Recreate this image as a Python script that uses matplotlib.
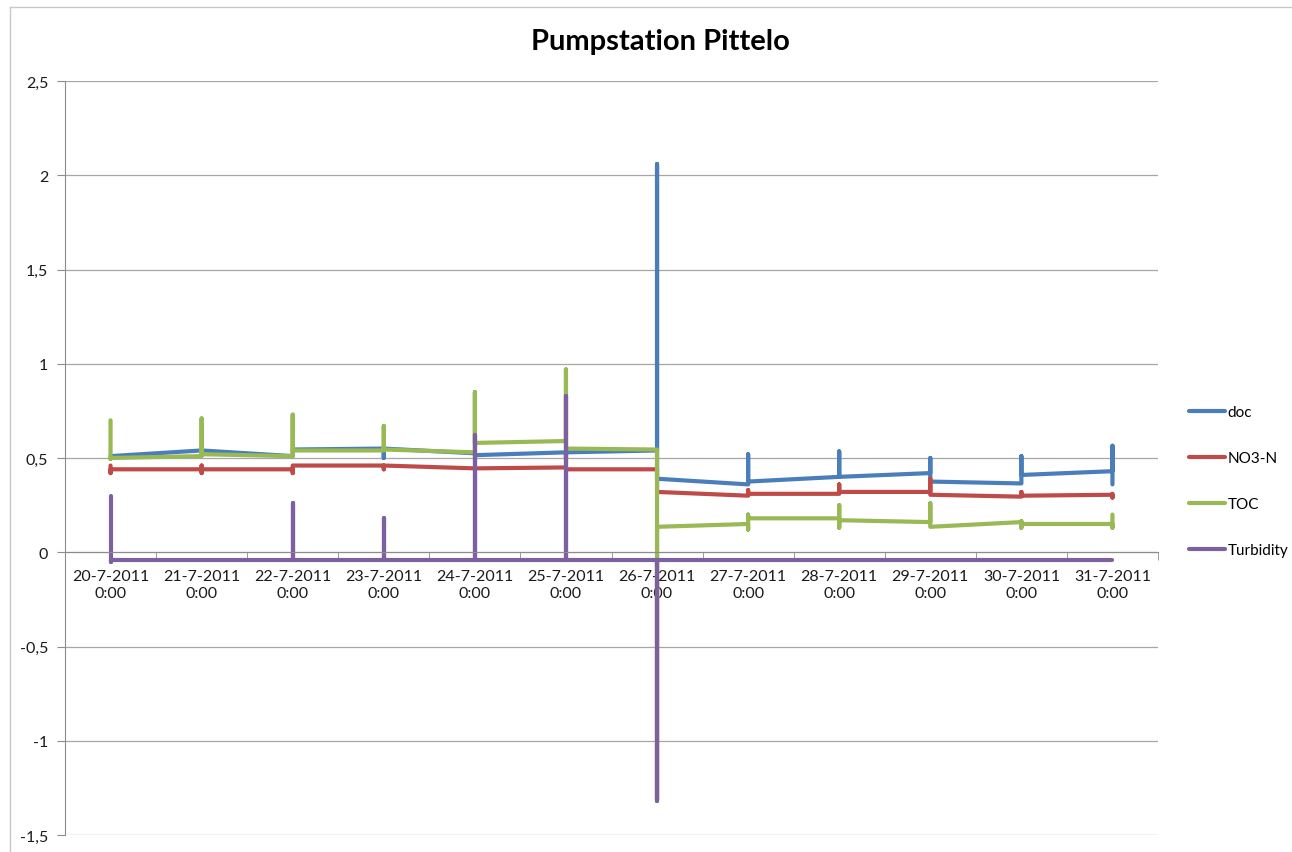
import matplotlib
matplotlib.use("Agg")
import matplotlib.pyplot as plt
from matplotlib.lines import Line2D
from matplotlib.ticker import FuncFormatter, FixedLocator

plt.rcParams['font.family'] = ['Lato', 'DejaVu Sans']

# one label per day, the readings of each day collapse onto the same category
days = ["20-7-2011", "21-7-2011", "22-7-2011", "23-7-2011", "24-7-2011", "25-7-2011",
        "26-7-2011", "27-7-2011", "28-7-2011", "29-7-2011", "30-7-2011", "31-7-2011"]

# readings within each day, in measurement order
doc = [[0.51], [0.54], [0.51, 0.545], [0.55, 0.50, 0.55], [0.525, 0.515],
       [0.53, 0.505, 0.53], [0.54, 2.06, 0.39], [0.36, 0.52, 0.375],
       [0.40, 0.535, 0.40], [0.42, 0.50, 0.375], [0.365, 0.51, 0.41],
       [0.43, 0.565, 0.36]]
no3n = [[0.46, 0.42, 0.44], [0.44, 0.42, 0.46, 0.44], [0.44, 0.42, 0.46],
        [0.46, 0.44, 0.46], [0.445], [0.45, 0.44], [0.44, 0.32],
        [0.30, 0.33, 0.31], [0.31, 0.36, 0.32], [0.32, 0.39, 0.305],
        [0.295, 0.32, 0.30], [0.305, 0.29, 0.31]]
toc = [[0.70, 0.495, 0.50], [0.51, 0.71, 0.52], [0.51, 0.73, 0.54],
       [0.54, 0.67, 0.545], [0.53, 0.85, 0.58], [0.59, 0.97, 0.55],
       [0.545, -1.31, 0.135], [0.15, 0.12, 0.20, 0.18], [0.18, 0.13, 0.25, 0.17],
       [0.16, 0.26, 0.135], [0.16, 0.13, 0.165, 0.15], [0.15, 0.13, 0.20]]
turbidity = [[0.30, -0.05, -0.04], [-0.04], [-0.04, 0.26, -0.04], [-0.04, 0.18, -0.04],
             [-0.04, 0.62, -0.04], [-0.04, 0.83, -0.04], [-0.04, -1.32, -0.04],
             [-0.04], [-0.04], [-0.04], [-0.04], [-0.04]]

series = [("doc", doc, "#4A7EBB"), ("NO3-N", no3n, "#BE4B48"),
          ("TOC", toc, "#98B954"), ("Turbidity", turbidity, "#7D60A0")]

fig = plt.figure(figsize=(12.92, 8.53), dpi=100)
ax = fig.add_axes([65 / 1292, 17 / 853, 1093 / 1292, 754 / 853])

for name, vals, col in series:
    xs, ys = [], []
    for i, day in enumerate(vals):
        xs += [i] * len(day)
        ys += day
    ax.plot(xs, ys, color=col, lw=3.0, label=name,
            solid_capstyle='round', solid_joinstyle='round')

ax.set_xlim(-0.5, len(days) - 0.5)
ax.set_ylim(-1.5, 2.5)
ax.set_yticks([-1.5, -1, -0.5, 0, 0.5, 1, 1.5, 2, 2.5])
ax.yaxis.set_major_formatter(FuncFormatter(lambda v, p: ("%g" % v).replace(".", ",")))
ax.grid(axis='y', color='#A6A6A6', lw=0.9)
ax.set_axisbelow(True)

# category axis crosses at zero, tick marks between the days
ax.spines['bottom'].set_position(('data', 0))
ax.spines['bottom'].set_color('#8C8C8C')
ax.spines['left'].set_color('#8C8C8C')
ax.spines['top'].set_visible(False)
ax.spines['right'].set_visible(False)
ax.set_xticks(range(len(days)))
ax.set_xticklabels([d + "\n0:00" for d in days], linespacing=1.3)
ax.xaxis.set_minor_locator(FixedLocator([i - 0.5 for i in range(len(days) + 1)]))
ax.tick_params(axis='x', which='major', length=0, pad=12, labelsize=11.5, colors='#1A1A1A')
ax.tick_params(axis='x', which='minor', length=6, direction='out', color='#8C8C8C')
ax.tick_params(axis='y', length=6, direction='out', color='#8C8C8C', pad=6,
               labelsize=11.5, labelcolor='#1A1A1A')

fig.text(0.511, 1 - 42 / 853, "Pumpstation Pittelo", ha='center', va='center',
         fontsize=21, fontweight='bold')

ax.legend(loc='center left', bbox_to_anchor=(1175 / 1292, 1 - 482 / 853),
          bbox_transform=fig.transFigure, frameon=False, fontsize=11,
          handlelength=2.4, handletextpad=0.15, labelspacing=2.1)

# chart area border
fig.add_artist(Line2D([10 / 1292, 1], [1 - 8 / 853] * 2, color='#C8C8C8', lw=1))
fig.add_artist(Line2D([10 / 1292] * 2, [0, 1 - 8 / 853], color='#C8C8C8', lw=1))

fig.savefig("out.png", dpi=100, facecolor='white')
